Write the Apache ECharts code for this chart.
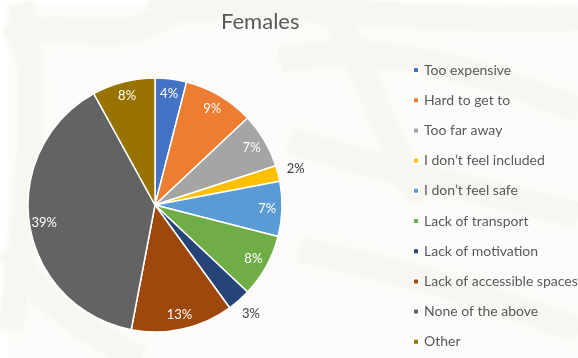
<!DOCTYPE html>
<html>
<head>
<meta charset="utf-8">
<style>
  html, body { margin: 0; padding: 0; background: #ffffff; }
  #chart { width: 578px; height: 358px; }
</style>
<script src="https://cdn.jsdelivr.net/npm/echarts@6/dist/echarts.min.js"></script>
</head>
<body>
<div id="chart"></div>
<script>
// Reasons given by females for not taking part (share of responses, %)
const categories = [
  'Too expensive',
  'Hard to get to',
  'Too far away',
  'I don\u2019t feel included',
  'I don\u2019t feel safe',
  'Lack of transport',
  'Lack of motivation',
  'Lack of accessible spaces',
  'None of the above',
  'Other'
];
const values = [4, 9, 7, 2, 7, 8, 3, 13, 39, 8];
const colors = ['#4472C4', '#ED7D31', '#A5A5A5', '#FFC000', '#5B9BD5',
                '#70AD47', '#264478', '#9E480E', '#636363', '#997300'];

const FONT = 'Lato, "Open Sans", sans-serif';
const CX = 155, CY = 205, R = 127;
// slices this small get their label just outside the rim
const isSmall = v => v <= 3;

const pieData = categories.map((name, i) => ({ name, value: values[i] }));

// Transparent copy of the pie whose "inside" label ring sits at a chosen radius
function labelRing(radius, pick, color) {
  return {
    type: 'pie',
    silent: true,
    center: [CX, CY],
    radius: [0, radius],
    startAngle: 90,
    clockwise: true,
    z: 5,
    legendHoverLink: false,
    itemStyle: { color: 'rgba(0,0,0,0)', borderWidth: 0 },
    emphasis: { disabled: true },
    labelLine: { show: false },
    data: pieData.map(d => ({
      name: d.name,
      value: d.value,
      label: {
        show: pick(d.value),
        position: 'inside',
        formatter: '{c}%',
        color: color,
        fontFamily: FONT,
        fontSize: 13
      }
    }))
  };
}

// faint background swooshes
const swooshes = [
  [8, 40, 60, 10, 120, 60, 180, 4],
  [20, 4, 40, 80, 30, 200, 10, 330],
  [150, 10, 300, 0, 450, 26, 578, 18],
  [330, 4, 360, 60, 380, 120, 420, 200],
  [280, 60, 380, 40, 480, 70, 578, 110],
  [290, 140, 380, 170, 480, 190, 578, 215],
  [300, 250, 400, 270, 500, 300, 578, 330],
  [10, 250, 40, 300, 80, 330, 140, 358]
].map(p => ({
  type: 'bezierCurve',
  silent: true,
  z: -10,
  shape: { x1: p[0], y1: p[1], cpx1: p[2], cpy1: p[3], cpx2: p[4], cpy2: p[5], x2: p[6], y2: p[7] },
  style: { stroke: '#f8f6f1', lineWidth: 24, fill: null, shadowBlur: 12, shadowColor: '#f8f6f1' }
}));

const chart = echarts.init(document.getElementById('chart'), null, { renderer: 'canvas' });
chart.setOption({
  animation: false,
  backgroundColor: '#ffffff',
  color: colors,
  graphic: [
    { type: 'rect', silent: true, z: -20, shape: { x: 8, y: 4, width: 570, height: 354 },
      style: { fill: '#fdfcfa' } }
  ].concat(swooshes),
  title: {
    text: 'Females',
    left: 216,
    top: 6,
    textStyle: { color: '#595959', fontFamily: FONT, fontSize: 22, fontWeight: 'normal' }
  },
  legend: {
    orient: 'vertical',
    left: 407,
    top: 57,
    icon: 'rect',
    itemWidth: 6,
    itemHeight: 6,
    itemGap: 14.2,
    selectedMode: false,
    data: categories,
    textStyle: { color: '#595959', fontFamily: FONT, fontSize: 14, lineHeight: 16 }
  },
  series: [
    {
      type: 'pie',
      center: [CX, CY],
      radius: [0, R],
      startAngle: 90,
      clockwise: true,
      z: 2,
      itemStyle: { borderColor: '#ffffff', borderWidth: 1.5 },
      label: { show: false },
      labelLine: { show: false },
      emphasis: { disabled: true },
      data: pieData
    },
    labelRing(2 * 0.86 * R, v => !isSmall(v), '#ffffff'),
    labelRing(2 * 1.12 * R, v => isSmall(v), '#404040')
  ]
});
</script>
</body>
</html>
